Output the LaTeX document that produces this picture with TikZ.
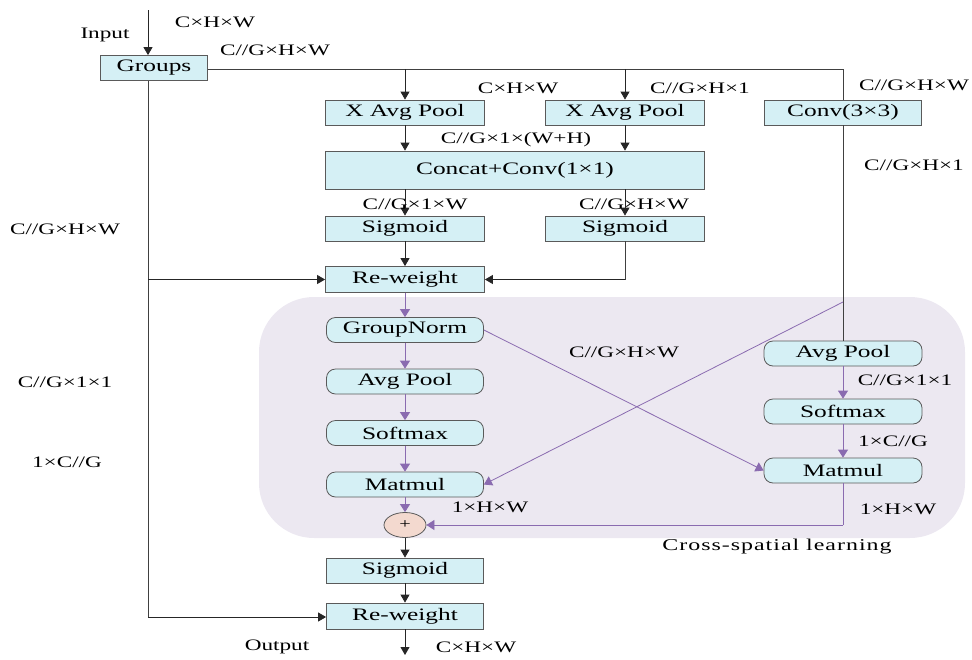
\documentclass[tikz,border=0pt]{standalone}
\usepackage{fontspec}
\setmainfont[FakeStretch=1.45]{Liberation Serif}
\usetikzlibrary{arrows.meta,shapes.geometric}
\definecolor{boxfill}{HTML}{D5F0F5}
\definecolor{boxline}{HTML}{5A5A5A}
\definecolor{panel}{HTML}{ECE8F1}
\definecolor{violet}{HTML}{8A6BB0}
\definecolor{plusfill}{HTML}{F3D9CF}
\tikzset{
  blk/.style={draw=boxline, fill=boxfill, line width=0.8pt, minimum height=25pt,
    inner sep=0pt, font=\fontsize{17.5}{17.5}\selectfont},
  rblk/.style={blk, rounded corners=9pt},
  lbl/.style={inner sep=0pt, font=\fontsize{16}{16}\selectfont},
  blkarrow/.style={-{Triangle[length=8pt,width=9pt]}, line width=0.8pt, draw=black!85},
  blkline/.style={line width=0.8pt, draw=black!75},
  vioarrow/.style={-{Triangle[length=8pt,width=10pt]}, line width=0.8pt, draw=violet, color=violet},
  violine/.style={line width=0.8pt, draw=violet}
}
\begin{document}
\begin{tikzpicture}[x=1pt,y=-1pt]
\useasboundingbox (0,0) rectangle (972,659);

% cross-spatial learning panel
\fill[panel, rounded corners=55pt] (259,297) rectangle (965,538);
\node[lbl, font=\fontsize{16.5}{16.5}\selectfont\addfontfeature{LetterSpace=6}] (cslab) at (777,547) {Cross-spatial learning};

% blocks of the upper part
\node[blk, minimum width=107pt] (groups) at (154,68) {Groups};
\node[blk, minimum width=159pt] (xp1) at (405,112.5) {X Avg Pool};
\node[blk, minimum width=159pt] (xp2) at (625,112.5) {X Avg Pool};
\node[blk, minimum width=157pt] (conv3) at (843,112.5) {Conv(3×3)};
\node[blk, minimum width=379pt, minimum height=38pt] (concat) at (515,170) {Concat+Conv(1×1)};
\node[blk, minimum width=159pt] (sig1) at (405,228.5) {Sigmoid};
\node[blk, minimum width=159pt] (sig2) at (625,228.5) {Sigmoid};
\node[blk, minimum width=159pt, minimum height=26pt] (rw1) at (405,279.5) {Re-weight};

% blocks inside the panel
\node[rblk, minimum width=157pt] (gn) at (405,330) {GroupNorm};
\node[rblk, minimum width=157pt] (apl) at (405,381.5) {Avg Pool};
\node[rblk, minimum width=157pt] (sml) at (405,433) {Softmax};
\node[rblk, minimum width=157pt] (mml) at (405,484.5) {Matmul};
\node[rblk, minimum width=158pt] (apr) at (843,353.5) {Avg Pool};
\node[rblk, minimum width=158pt] (smr) at (843,411.5) {Softmax};
\node[rblk, minimum width=158pt] (mmr) at (843,470.5) {Matmul};
\node[ellipse, draw=boxline, fill=plusfill, line width=0.8pt, minimum width=42pt,
  minimum height=25pt, inner sep=0pt, font=\fontsize{14}{14}\selectfont] (plus) at (405,525) {+};

% blocks of the lower part
\node[blk, minimum width=157pt] (sig3) at (405,570.5) {Sigmoid};
\node[blk, minimum width=157pt, minimum height=26pt] (rw2) at (405,616) {Re-weight};

% junctions and free ends
\coordinate (inp) at (148,10);
\coordinate (outp) at (405,655);
\coordinate (tr) at (843,69);
\coordinate (b1) at (405,69);
\coordinate (b2) at (625,69);
\coordinate (diag) at (843,302);
\coordinate (lsplit) at (148,279.5);
\coordinate (lbot) at (148,617);
\coordinate (s2turn) at (625,279.5);
\coordinate (mmturn) at (843,525);

% upper connectors
\draw[blkarrow] (inp) -- (inp |- groups.north);
\draw[blkline] (groups.east |- tr) -- (tr) -- (conv3.north);
\draw[blkarrow] (b1) -- (xp1.north);
\draw[blkarrow] (b2) -- (xp2.north);
\draw[blkarrow] (xp1) -- (concat.north -| xp1);
\draw[blkarrow] (xp2) -- (concat.north -| xp2);
\draw[blkarrow] (concat.south -| sig1) -- (sig1.north);
\draw[blkarrow] (concat.south -| sig2) -- (sig2.north);
\draw[blkarrow] (sig1) -- (rw1);
\draw[blkline] (sig2.south) -- (s2turn);
\draw[blkarrow] (s2turn) -- (rw1.east);
\draw[blkline] (conv3.south) -- (apr.north);
\draw[blkline] (groups.south -| lsplit) -- (lbot);
\draw[blkarrow] (lsplit) -- (rw1.west);
\draw[blkarrow] (lbot) -- (rw2.west |- lbot);

% panel connectors
\draw[vioarrow] (rw1) -- (gn);
\draw[vioarrow] (gn) -- (apl);
\draw[vioarrow] (apl) -- (sml);
\draw[vioarrow] (sml) -- (mml);
\draw[vioarrow] (mml) -- (plus);
\draw[vioarrow] (apr) -- (smr);
\draw[vioarrow] (smr) -- (mmr);
\draw[vioarrow] (gn.east) -- (mmr.west);
\draw[vioarrow] (diag) -- (mml.east);
\draw[violine] (mmr.south) -- (mmturn);
\draw[vioarrow] (mmturn) -- (plus.east);

% lower connectors
\draw[blkarrow] (plus) -- (sig3);
\draw[blkarrow] (sig3) -- (rw2);
\draw[blkarrow] (rw2) -- (outp);

% tensor shape labels
\node[lbl] (tin) at (105,35) {Input};
\node[lbl] (t1) at (215,22) {C×H×W};
\node[lbl] (t2) at (275,50) {C//G×H×W};
\node[lbl] (t3) at (518,88) {C×H×W};
\node[lbl] (t4) at (700,88) {C//G×H×1};
\node[lbl] (t5) at (914,85) {C//G×H×W};
\node[lbl] (t6) at (516,140) {C//G×1×(W+H)};
\node[lbl] (t7) at (415,204) {C//G×1×W};
\node[lbl] (t8) at (634,204) {C//G×H×W};
\node[lbl] (t9) at (914,165) {C//G×H×1};
\node[lbl] (t10) at (65,229) {C//G×H×W};
\node[lbl] (t11) at (65,382) {C//G×1×1};
\node[lbl] (t12) at (67,462) {1×C//G};
\node[lbl] (t13) at (624,352) {C//G×H×W};
\node[lbl] (t14) at (905,380) {C//G×1×1};
\node[lbl] (t15) at (893,441) {1×C//G};
\node[lbl] (t16) at (490,507) {1×H×W};
\node[lbl] (t17) at (898,509) {1×H×W};
\node[lbl] (tout) at (277,647) {Output};
\node[lbl] (t18) at (476,647) {C×H×W};
\end{tikzpicture}
\end{document}
